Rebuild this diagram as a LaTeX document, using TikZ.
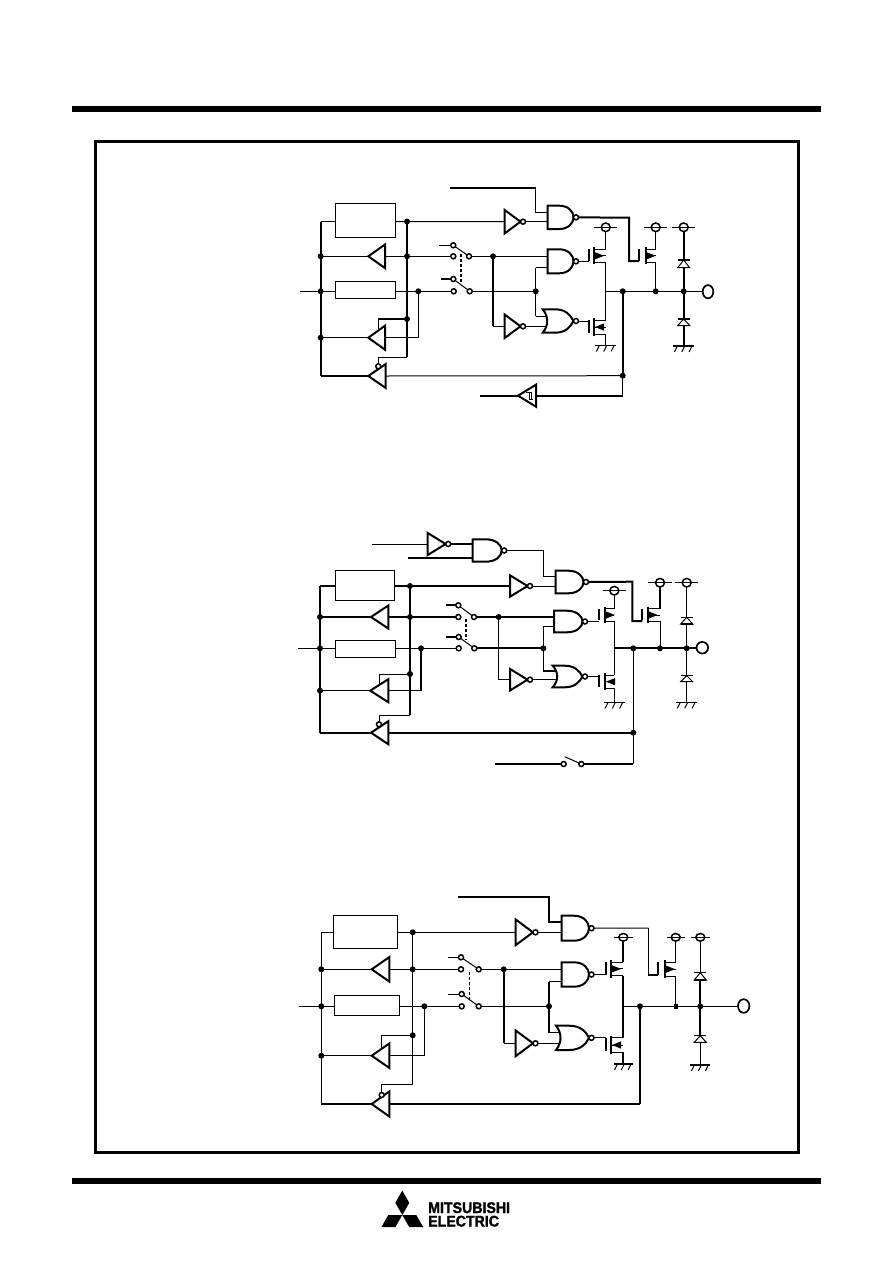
\documentclass[tikz,border=0pt]{standalone}
\usepackage{fontspec}
\usepackage{graphicx}
\usetikzlibrary{calc}
\newfontfamily\logofont{Liberation Sans}[BoldFeatures={FakeBold=1.6}]
\tikzset{
  wn/.style={line width=1pt},
  wt/.style={line width=2pt},
  wm/.style={line width=1.5pt},
  gatebody/.style={line width=2pt,fill=white,line join=miter},
  blk/.style={draw,line width=1pt,fill=white,inner sep=0pt,outer sep=0pt},
  bub/.style={line width=1.5pt,fill=white},
  frameline/.style={line width=3pt},
  barline/.style={line width=6pt},
}
% triangle: name, x back, y, x tip, half height
\newcommand\gTri[5]{%
  \draw[gatebody] (#2,{#3-#5}) -- (#4,#3) -- (#2,{#3+#5}) -- cycle;
  \coordinate (#1-b) at (#2,#3);
  \coordinate (#1-t) at (#4,#3);}
% inverter pointing right
\newcommand\gInv[5]{%
  \gTri{#1}{#2}{#3}{#4}{#5}%
  \draw[bub] ({#4+2.5},#3) circle (2.5);
  \coordinate (#1-o) at ({#4+5},#3);}
% nand: name, x, ytop, ybot, xtip
\newcommand\gNand[5]{%
  \draw[gatebody] (#2,#3) -- ({#2+0.45*(#5-#2)},#3)
    .. controls ({#2+0.8*(#5-#2)},#3) and (#5,{#3+0.25*(#4-#3)}) .. (#5,{(#3+#4)/2})
    .. controls (#5,{#3+0.75*(#4-#3)}) and ({#2+0.8*(#5-#2)},#4) .. ({#2+0.45*(#5-#2)},#4)
    -- (#2,#4) -- cycle;
  \draw[bub] ({#5+2.5},{(#3+#4)/2}) circle (2.5);
  \coordinate (#1-o) at ({#5+5},{(#3+#4)/2});
  \coordinate (#1-i) at (#2,{(#3+#4)/2});}
% nor: name, x, ytop, ybot, xtip
\newcommand\gNor[5]{%
  \draw[gatebody] (#2,#3) -- ({#2+0.4*(#5-#2)},#3)
    .. controls ({#2+0.75*(#5-#2)},#3) and ({#5-3},{#3+0.25*(#4-#3)}) .. (#5,{(#3+#4)/2})
    .. controls ({#5-3},{#3+0.75*(#4-#3)}) and ({#2+0.75*(#5-#2)},#4) .. ({#2+0.4*(#5-#2)},#4)
    -- (#2,#4)
    .. controls ({#2+6},{#3+0.7*(#4-#3)}) and ({#2+6},{#3+0.3*(#4-#3)}) .. (#2,#3) -- cycle;
  \draw[bub] ({#5+2.5},{(#3+#4)/2}) circle (2.5);
  \coordinate (#1-o) at ({#5+5},{(#3+#4)/2});
  \coordinate (#1-i) at ({#2+4},{(#3+#4)/2});}
% mos: name, bar x, channel x, drain x, channel top, channel bottom, arrow direction
\newcommand\gMos[7]{%
  \draw[wt] (#3,#5) -- (#3,#6);
  \draw[wt] (#2,{#5+2}) -- (#2,{#6-3});
  \draw[wn] (#3,{#5+2}) -- (#4,{#5+2});
  \draw[wn] (#3,{#6-2}) -- (#4,{#6-2});
  \draw[wn] (#3,{(#5+#6)/2}) -- (#4,{(#5+#6)/2});
  \fill ({#3+5.5-4.5*#7},{(#5+#6)/2-3.6}) -- ({#3+5.5+4.5*#7},{(#5+#6)/2}) -- ({#3+5.5-4.5*#7},{(#5+#6)/2+3.6}) -- cycle;
  \coordinate (#1-d) at (#4,{#5+2});
  \coordinate (#1-s) at (#4,{#6-2});
  \coordinate (#1-g) at (#2,{(#5+#6)/2});}
% supply mark: x, y, half width, rx, ry
\newcommand\gVdd[5]{%
  \draw[bub] (#1,#2) ellipse (#4 and #5);
  \draw[wn] ({#1-#3},#2) -- ({#1+#3},#2);}
% ground mark: x, y, half width
\newcommand\gGnd[3]{%
  \draw[wm] ({#1-#3},#2) -- ({#1+#3},#2);
  \foreach \hh in {-0.7,0,0.7}{\draw[wn] ({#1+\hh*#3+1},#2) -- ({#1+\hh*#3-2},{#2+6});}}
% diode: x, y bar, y base
\newcommand\gDiode[3]{%
  \draw[wn,fill=white] ({#1-6},#3) -- ({#1+6},#3) -- (#1,#2) -- cycle;
  \draw[wm] ({#1-6},#3) -- ({#1+6},#3);
  \draw[wm] ({#1-6},#2) -- ({#1+6},#2);}
\newcommand\gDot[1]{\fill (#1) circle (3);}
\newcommand\gTerm[1]{\draw[bub] (#1) circle (2.5);}
\begin{document}
\begin{tikzpicture}[x=1pt,y=-1pt]
\useasboundingbox (0,0) rectangle (892,1263);
\fill[white] (0,0) rectangle (892,1263);
% page furniture
\draw[barline] (72,108.5) -- (821,108.5);
\draw[barline] (72,1181) -- (821,1181);
\draw[frameline] (95,141) rectangle (798,1152);
% ---------- logo
\coordinate (lg) at (402.3,1215);
\fill (lg) -- ++(-7,-12.2) -- ++(7,-12.2) -- ++(7,12.2) -- cycle;
\fill (lg) -- ++(-14,0) -- ++(-7,12.2) -- ++(14,0) -- cycle;
\fill (lg) -- ++(14,0) -- ++(7,12.2) -- ++(-14,0) -- cycle;
\node[anchor=base west,inner sep=0pt] (lgA) at (428,1213) {\scalebox{0.92}[1]{\logofont\bfseries\fontsize{15.4}{15.4}\selectfont MITSUBISHI}};
\node[anchor=base west,inner sep=0pt] (lgB) at (428,1226.5) {\scalebox{0.92}[1]{\logofont\bfseries\fontsize{15.4}{15.4}\selectfont ELECTRIC}};

% ================= circuit 1
\node[blk,minimum width=60pt,minimum height=34pt] (aB1) at (365.7,220.3) {};
\node[blk,minimum width=60.4pt,minimum height=16.6pt] (aB2) at (365.5,290) {};
\gTri{aT1}{385}{256.3}{368.3}{11.8}
\gTri{aT2}{385}{337.7}{368.3}{12}
\gTri{aT3}{385.7}{376}{368.3}{12}
\gInv{aI1}{504.7}{221.7}{520.5}{11.7}
\gInv{aI2}{504.7}{326.3}{520.5}{11.7}
\gNand{aN1}{547.7}{205.7}{229}{573.5}
\gNand{aN2}{547.7}{249.3}{273.3}{573.5}
\gNor{aN3}{542.7}{309.3}{332.7}{573.5}
\gTri{aS}{536}{395.7}{518}{11}
\draw[wn] (533,399) -- (529,399) -- (529,392) -- (526,392) (531,399) -- (531,392) -- (527,392);
\gMos{aM1}{589.3}{594}{605.7}{247.3}{264.3}{1}
\gMos{aM2}{589.3}{594}{605.7}{318}{336}{-1}
\gMos{aM3}{639}{645.7}{655.7}{247.3}{264.3}{1}
\coordinate (aLt) at (320.7,221.5); \coordinate (aLb) at (320.7,376);
\coordinate (aL1) at (320.7,256.3); \coordinate (aL2) at (320.7,291.3); \coordinate (aL3) at (320.7,337.7);
\coordinate (aRt) at (407,221.5); \coordinate (aR1) at (407,256.3); \coordinate (aR2) at (407,319); \coordinate (aRb) at (407,357.3);
\coordinate (aIn) at (300,291.3);
\coordinate (aJ) at (418.3,291.3);
\coordinate (aC1) at (378.3,330.5); \coordinate (aC2) at (378.3,366.3);
\coordinate (aUb) at (453.3,256.3); \coordinate (aUc) at (469,256.3); \coordinate (aUa) at (453.3,245.3); \coordinate (aUs) at (439,245.3);
\coordinate (aLob) at (453.7,291.3); \coordinate (aLoc) at (469.7,291.3); \coordinate (aLoa) at (453.3,279); \coordinate (aLos) at (441,279);
\coordinate (aD1) at (493,256.3);
\coordinate (aD2) at (535.7,291.3);
\coordinate (aTop) at (450,187.5); \coordinate (aTk) at (535.7,187.5); \coordinate (aTi) at (547.7,212.7);
\coordinate (aQ) at (629,217.7); \coordinate (aQb) at (629,261); \coordinate (aOut) at (703,291.3);
\coordinate (aD3) at (622.7,291.3); \coordinate (aD4) at (622.7,375.7); \coordinate (aD5) at (655.7,291.3); \coordinate (aD6) at (683.7,291.3);
\coordinate (aF) at (622.7,395.7); \coordinate (aSi) at (480,395.7);
\coordinate (aV1) at (605.7,227.3); \coordinate (aV2) at (655.7,227.3); \coordinate (aV3) at (683.7,227.3);
\coordinate (aG1) at (605.7,345.5); \coordinate (aG3) at (683.7,346);
\draw[wt] (aLt) -- (aLb);
\draw[wt] (aRt) -- (aRb);
\draw[wn] (aLt) -- (aB1.west|-aLt);
\draw[wn] (aB1.east|-aLt) -- (aI1-b);
\draw[wn] (aI1-o) -- (aN1-i|-aI1-o);
\draw[wn] (aL1) -- (aT1-t);
\draw[wn] (aT1-b) -- (aUb);
\draw[wn] (aIn) -- (aB2.west|-aIn);
\draw[wn] (aB2.east|-aIn) -- (aLob);
\draw[wn] (aL3) -- (aT2-t);
\draw[wn] (aT2-b) -| (aJ);
\draw[wn] (aC1) -- (aC1|-aR2);
\draw[wm] (aC1|-aR2) -- (aR2);
\draw[wn] (aC2) |- (aRb);
\draw[wt] (aLb) -- (aT3-t);
\draw[wn] (aT3-b) -- (aD4);
\draw[wn] (aUc) -- (aN2-i|-aUc);
\draw[wn] (aLoc) -- (aD2);
\draw[wt] (aD1) -- (aD1|-aI2-b);
\draw[wn] (aD1|-aI2-b) -- (aI2-b);
\draw[wt] (aTop) -- (aTk);
\draw[wn] (aTk) -- (aTk|-aTi);
\draw[wm] (aTk|-aTi) -- (aTi);
\draw[wn] (aI2-o) -- (aN3-i|-aI2-o);
\coordinate (aNi) at (547,316);
\draw[wn] (aD2|-aNi) -- (aNi);
\coordinate (aNj) at (547.7,267.7);
\draw[wm] (aD2|-aNj) -- (aNj);
\draw[wn] (aD2) -- (aD2|-aNj);
\draw[wn] (aD2) -- (aD2|-aNi);
\draw[wt] (aN1-o) -- (aQ) -- (aQb) -- (aM3-g|-aQb);
\draw[wn] (aN2-o) -- (aM1-g|-aN2-o);
\draw[wn] (aN3-o) -- (aM2-g|-aN3-o);
\draw[wn] (aV1) -- (aM1-d);
\draw[wn] (aM1-s) -- (aM2-d);
\draw[wn] (aM2-s) -- (aG1);
\draw[wn] (aV2) -- (aM3-d);
\draw[wn] (aM3-s) -- (aD5);
\draw[wn] (aM1-s|-aOut) -- (aOut);
\draw[wt] (aV3) -- (aG3);
\draw[wt] (aD3) -- (aD4);
\draw[wn] (aD4) -- (aF);
\draw[wt] (aF) -- (aS-b);
\draw[wt] (aS-t) -- (aSi);
\gDiode{683.7}{260}{267.7}
\gDiode{683.7}{319}{325.5}
\gGnd{605.7}{345.5}{10.5}
\gGnd{683.7}{346}{10.5}
\gVdd{605.7}{227.3}{11.7}{4.5}{4.3}
\gVdd{655.7}{227.3}{11.7}{4.5}{4.3}
\gVdd{683.7}{227.3}{11.7}{4.5}{4.3}
\draw[wn] (aUs) -- (aUa); \draw[wt] (aLos) -- (aLoa);
\draw[wn] (aUa) -- (aUc); \draw[wn] (aLoa) -- (aLoc);
\draw[wt,dashed,dash pattern=on 3pt off 2pt] (461,254) -- (461,284);
\gTerm{aUa}\gTerm{aUb}\gTerm{aUc}\gTerm{aLoa}\gTerm{aLob}\gTerm{aLoc}
\draw[bub] (aC2) circle (2.5);
\foreach \dd in {aL1,aL2,aL3,aRt,aR1,aR2,aJ,aD1,aD2,aD3,aD4,aD5,aD6}{\gDot{\dd}}
\draw[line width=1.7pt] (708,291.7) ellipse (5.3 and 6.6);

% ================= circuit 2
\node[blk,minimum width=59pt,minimum height=30pt] (bB1) at (364.8,585.3) {};
\node[blk,minimum width=60.4pt,minimum height=17pt] (bB2) at (365.5,648.8) {};
\gTri{bT1}{388.3}{617}{371}{11.5}
\gTri{bT2}{388.3}{690.7}{370.3}{11.5}
\gTri{bT3}{388.3}{732.7}{371}{11.5}
\gInv{bI0}{427.7}{544}{445.7}{11}
\gInv{bI1}{510}{586}{527.5}{10.7}
\gInv{bI2}{510}{679.7}{527.5}{10.8}
\gNand{bA}{472.7}{539.3}{561.7}{501.7}
\gNand{bN1}{555.7}{570.7}{593.3}{583.5}
\gNand{bN2}{554}{610.7}{632.3}{582.5}
\gNor{bN3}{552.7}{665.7}{687.3}{582.5}
\gMos{bM1}{599}{605}{614.3}{606.7}{623.3}{1}
\gMos{bM2}{599}{605}{614.3}{673.3}{690}{-1}
\gMos{bM3}{642.3}{647.7}{660}{606.7}{623.3}{1}
\coordinate (bLt) at (320,586); \coordinate (bLb) at (320,732.7);
\coordinate (bL1) at (320,617); \coordinate (bL2) at (320,648.3); \coordinate (bL3) at (320,690.7);
\coordinate (bRt) at (410,586); \coordinate (bR1) at (410,617); \coordinate (bR2) at (410,674); \coordinate (bRb) at (410,715.3);
\coordinate (bIn) at (298.3,648.3); \coordinate (bJ) at (421,648.3);
\coordinate (bC1) at (379.7,684.7); \coordinate (bC2) at (379,724.3);
\coordinate (bUa) at (458.3,605.3); \coordinate (bUb) at (458.3,617); \coordinate (bUc) at (474,617); \coordinate (bUs) at (446,605.3);
\coordinate (bLoa) at (458.7,637); \coordinate (bLob) at (458.7,648.3); \coordinate (bLoc) at (474.3,648.3); \coordinate (bLos) at (446,637);
\coordinate (bD1) at (498.7,617); \coordinate (bD2) at (543.3,648.3);
\coordinate (bZ1) at (372.3,544); \coordinate (bZ2) at (408.3,557.7); \coordinate (bZ2e) at (472.7,557.7);
\coordinate (bZ3) at (543.3,550.5); \coordinate (bZ4) at (555.7,576.7); \coordinate (bZ5) at (472.7,544);
\coordinate (bQ) at (632.3,581.7); \coordinate (bQb) at (632.3,621);
\coordinate (bD3) at (633.3,648.3); \coordinate (bD4) at (633.3,732.7); \coordinate (bD5) at (660,648.3); \coordinate (bD6) at (686.7,648.3);
\coordinate (bOut) at (696.7,648.3); \coordinate (bS0) at (495,764); \coordinate (bSa) at (563.7,764); \coordinate (bSc) at (581.3,764); \coordinate (bSe) at (633.3,764);
\coordinate (bV1) at (614.3,590.7); \coordinate (bV2) at (660,582.7); \coordinate (bV3) at (686.7,582.7);
\coordinate (bG1) at (614.3,702.5); \coordinate (bG3) at (686.7,702.3);
\coordinate (bBl) at (564.7,756.7);
\draw[wt] (bLt) -- (bLb);
\draw[wt] (bRt) -- (bRb);
\draw[wt] (bLt) -- (bB1.west|-bLt);
\draw[wt] (bB1.east|-bLt) -- (bI1-b);
\draw[wn] (bI1-o) -- (bN1-i|-bI1-o);
\draw[wt] (bL1) -- (bT1-t);
\draw[wt] (bT1-b) -- (bUb);
\draw[wn] (bIn) -- (bB2.west|-bIn);
\draw[wn] (bB2.east|-bIn) -- (bLob);
\draw[wn] (bL3) -- (bT2-t);
\draw[wn] (bT2-b) -- (bJ|-bT2-b);
\draw[wt] (bJ|-bT2-b) -- (bJ);
\draw[wn] (bC1) -- (bC1|-bR2) -- (bR2);
\draw[wn] (bC2) |- (bRb);
\draw[wt] (bLb) -- (bT3-t);
\draw[wt] (bT3-b) -- (bD4);
\draw[wt] (bUc) -- (bN2-i|-bUc);
\draw[wt] (bLoc) -- (bD2);
\draw[wn] (bD1) -- (bD1|-bI2-b) -- (bI2-b);
\draw[wn] (bZ1) -- (bI0-b);
\draw[wt] (bI0-o) -- (bZ5);
\draw[wt] (bZ2) -- (bZ2e);
\draw[wn] (bA-o) -- (bZ3) -- (bZ3|-bZ4);
\draw[wm] (bZ3|-bZ4) -- (bZ4);
\draw[wn] (bI2-o) -- (bN3-i|-bI2-o);
\coordinate (bNj) at (554,626.7); \coordinate (bNi) at (556,671);
\draw[wm] (bD2|-bNj) -- (bNj);
\draw[wm] (bD2|-bNi) -- (bNi);
\draw[wn] (bD2|-bNj) -- (bD2|-bNi);
\draw[wt] (bN1-o) -- (bQ) -- (bQb) -- (bM3-g|-bQb);
\draw[wn] (bN2-o) -- (bM1-g|-bN2-o);
\draw[wn] (bN3-o) -- (bM2-g|-bN3-o);
\draw[wn] (bV1) -- (bM1-d);
\draw[wn] (bM1-s) -- (bM2-d);
\draw[wn] (bM2-s) -- (bG1);
\draw[wt] (bV2) -- (bM3-d);
\draw[wn] (bM3-s) -- (bD5);
\draw[wt] (bM1-s|-bOut) -- (bOut);
\draw[wm] (bV3) -- (bG3);
\draw[wn] (bD3) -- (bSe);
\draw[wt] (bS0) -- (bSa);
\draw[wt] (bSc) -- (bSe);
\draw[wn] (bBl) -- (bSc);
\gDiode{686.7}{617.3}{624}
\gDiode{686.7}{675.7}{681.7}
\gGnd{614.3}{702.5}{10.5}
\gGnd{686.7}{702.3}{10.5}
\gVdd{614.3}{590.7}{11.7}{4.5}{4.3}
\gVdd{660}{582.7}{11.7}{4.5}{4.3}
\gVdd{686.7}{582.7}{11.7}{4.5}{4.3}
\draw[wt] (bUs) -- (bUa); \draw[wt] (bLos) -- (bLoa);
\draw[wn] (bUa) -- (bUc); \draw[wn] (bLoa) -- (bLoc);
\draw[wt,dashed,dash pattern=on 3pt off 2pt] (465.7,619.3) -- (465.7,640);
\gTerm{bUa}\gTerm{bUb}\gTerm{bUc}\gTerm{bLoa}\gTerm{bLob}\gTerm{bLoc}
\gTerm{bSa}\gTerm{bSc}
\draw[bub] (bC2) circle (2.5);
\foreach \dd in {bL1,bL2,bL3,bRt,bR1,bR2,bJ,bD1,bD2,bD3,bD4,bD5,bD6}{\gDot{\dd}}
\draw[line width=1.7pt] (702.3,647.7) circle (5.8);

% ================= circuit 3
\node[blk,minimum width=64pt,minimum height=33.3pt] (cB1) at (365.3,932.3) {};
\node[blk,minimum width=65pt,minimum height=19.6pt] (cB2) at (366.8,1005.5) {};
\gTri{cT1}{389.3}{969.3}{371.7}{12.2}
\gTri{cT2}{389.3}{1055.7}{371.7}{12.2}
\gTri{cT3}{389.3}{1104}{371.7}{12.5}
\gInv{cI1}{515.7}{932.3}{533}{12.8}
\gInv{cI2}{515.7}{1043.3}{533}{12.8}
\gNand{cN1}{561.7}{915.7}{940.7}{589}
\gNand{cN2}{561.7}{962.3}{986.7}{589}
\gNor{cN3}{556}{1025.7}{1050}{589}
\gMos{cM1}{606}{611}{623.3}{960}{977.7}{1}
\gMos{cM2}{606}{611}{623.3}{1035.7}{1054.3}{-1}
\gMos{cM3}{658.3}{665}{675.7}{960}{978.3}{1}
\coordinate (cLt) at (321.3,932.3); \coordinate (cLb) at (321.3,1104);
\coordinate (cL1) at (321.3,969.3); \coordinate (cL2) at (321.3,1006.3); \coordinate (cL3) at (321.3,1055.7);
\coordinate (cRt) at (412.7,932.3); \coordinate (cR1) at (412.7,969.3); \coordinate (cR2) at (412.7,1035.3); \coordinate (cRb) at (412.7,1084.3);
\coordinate (cIn) at (299,1006.3); \coordinate (cJ) at (424.3,1006.3);
\coordinate (cC1) at (381.7,1048.8); \coordinate (cC2) at (381.7,1095);
\coordinate (cUa) at (461,957.3); \coordinate (cUb) at (461,969.3); \coordinate (cUc) at (478.7,969.3); \coordinate (cUs) at (448.3,957.3);
\coordinate (cLoa) at (461.7,994); \coordinate (cLob) at (461.7,1006.3); \coordinate (cLoc) at (478.7,1006.3); \coordinate (cLos) at (448.3,994);
\coordinate (cD1) at (503.7,969.3); \coordinate (cD2) at (549,1006.3);
\coordinate (cTop) at (458.3,896.7); \coordinate (cTk) at (549,896.7); \coordinate (cTi) at (561.7,922.3);
\coordinate (cQ) at (648.3,928); \coordinate (cQb) at (648.3,975);
\coordinate (cD3) at (640,1006.3); \coordinate (cD4) at (640,1104); \coordinate (cD5) at (675.7,1006.3); \coordinate (cD6) at (700.3,1006.3);
\coordinate (cOut) at (737.3,1006.3);
\coordinate (cV1) at (623.3,937.3); \coordinate (cV2) at (675.7,937.3); \coordinate (cV3) at (700.3,937.3);
\coordinate (cG1) at (623.3,1064); \coordinate (cG3) at (700.3,1065);
\coordinate (cDa) at (700.3,980); \coordinate (cDb) at (700.3,1036);
\draw[wm] (cLt) -- (cLb);
\draw[wm] (cRt) -- (cRb);
\draw[wn] (cLt) -- (cB1.west|-cLt);
\draw[wn] (cB1.east|-cLt) -- (cI1-b);
\draw[wn] (cI1-o) -- (cN1-i|-cI1-o);
\draw[wn] (cL1) -- (cT1-t);
\draw[wn] (cT1-b) -- (cUb);
\draw[wn] (cIn) -- (cB2.west|-cIn);
\draw[wn] (cB2.east|-cIn) -- (cLob);
\draw[wn] (cL3) -- (cT2-t);
\draw[wn] (cT2-b) -| (cJ);
\draw[wm] (cC1) -- (cC1|-cR2) -- (cR2);
\draw[wn] (cC2) |- (cRb);
\draw[wt] (cLb) -- (cT3-t);
\draw[wt] (cT3-b) -- (cD4);
\draw[wn] (cUc) -- (cN2-i|-cUc);
\draw[wn] (cLoc) -- (cD2);
\draw[wt] (cD1) -- (cD1|-cI2-b);
\draw[wn] (cD1|-cI2-b) -- (cI2-b);
\draw[wt] (cTop) -- (cTk) -- (cTk|-cTi) -- (cTi);
\draw[wn] (cI2-o) -- (cN3-i|-cI2-o);
\coordinate (cNj) at (561.7,981.7); \coordinate (cNi) at (560,1032.7);
\draw[wn] (cD2|-cNj) -- (cNj);
\draw[wm] (cD2|-cNi) -- (cNi);
\draw[wm] (cD2|-cNj) -- (cD2|-cNi);
\draw[wn] (cN1-o) -- (cQ);
\draw[wm] (cQ) -- (cQb) -- (cM3-g|-cQb);
\draw[wn] (cN2-o) -- (cM1-g|-cN2-o);
\draw[wn] (cN3-o) -- (cM2-g|-cN3-o);
\draw[wt] (cV1) -- (cM1-d);
\draw[wt] (cM1-s) -- (cM2-d);
\draw[wt] (cM2-s) -- (cG1);
\draw[wn] (cV2) -- (cM3-d);
\draw[wn] (cM3-s) -- (cD5);
\draw[wn] (cM1-s|-cOut) -- (cOut);
\draw[wt] (cD3) -- (cD4);
\draw[wn] (cV3) -- (cG3);
\draw[wt] (cDa) -- (cDb);
\gDiode{700.3}{972.7}{980}
\gDiode{700.3}{1035.7}{1042.3}
\gGnd{623.3}{1064}{9.7}
\gGnd{700.3}{1065}{10}
\gVdd{623.3}{937.3}{9.2}{4.5}{3.8}
\gVdd{675.7}{937.3}{9.2}{4.5}{3.8}
\gVdd{700.3}{937.3}{9.2}{4.5}{3.8}
\draw[wn] (cUs) -- (cUa); \draw[wn] (cLos) -- (cLoa);
\draw[wn] (cUa) -- (cUc); \draw[wn] (cLoa) -- (cLoc);
\draw[wn,dashed,dash pattern=on 3pt off 2pt] (469.3,972) -- (469.3,1000);
\gTerm{cUa}\gTerm{cUb}\gTerm{cUc}\gTerm{cLoa}\gTerm{cLob}\gTerm{cLoc}
\draw[bub] (cC2) circle (2.5);
\foreach \dd in {cL1,cL2,cL3,cRt,cR1,cR2,cJ,cD1,cD2,cD3,cD6}{\gDot{\dd}}
\fill ($(cD5)+(-2.2,-2.2)$) rectangle ($(cD5)+(2.2,2.2)$);
\draw[line width=1.7pt] (743.7,1006) ellipse (5.7 and 6.8);
\end{tikzpicture}
\end{document}
